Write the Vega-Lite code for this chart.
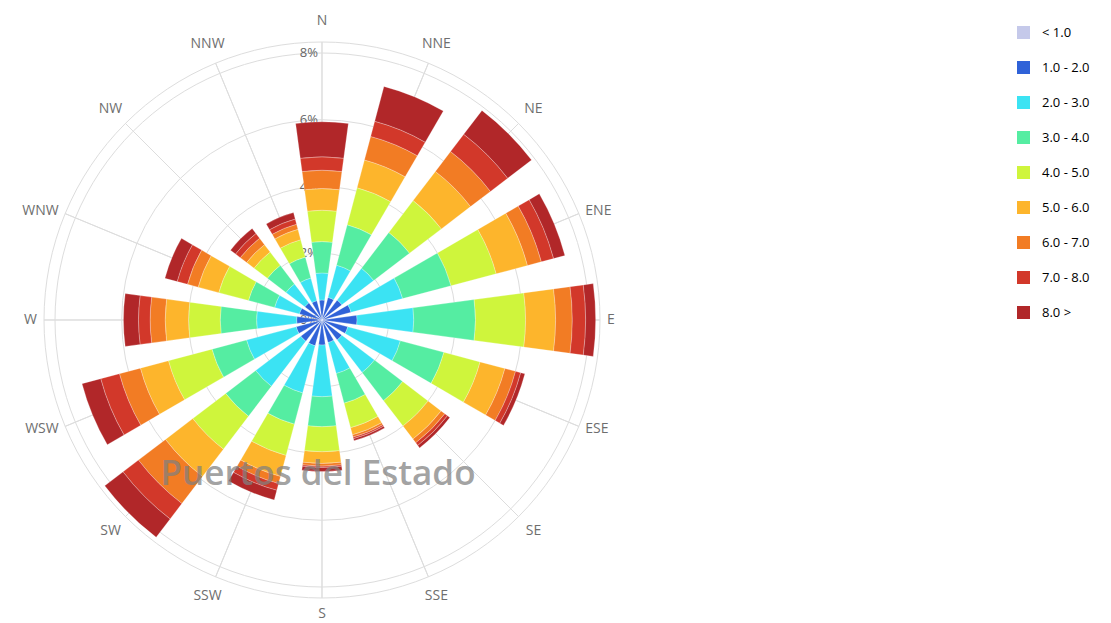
{
  "$schema": "https://vega.github.io/schema/vega-lite/v6.json",
  "width": 600,
  "height": 600,
  "autosize": {"type": "none"},
  "padding": {"left": 22, "top": 20, "right": 489, "bottom": 3},
  "background": "white",
  "config": {"view": {"stroke": null}, "font": "Open Sans"},
  "datasets": {
    "rose": [
      {"dir": "N", "speed": "1.0 - 2.0", "value": 0.6}, {"dir": "N", "speed": "2.0 - 3.0", "value": 0.81}, {"dir": "N", "speed": "3.0 - 4.0", "value": 0.94}, {"dir": "N", "speed": "4.0 - 5.0", "value": 0.94}, {"dir": "N", "speed": "5.0 - 6.0", "value": 0.65}, {"dir": "N", "speed": "6.0 - 7.0", "value": 0.55}, {"dir": "N", "speed": "7.0 - 8.0", "value": 0.40}, {"dir": "N", "speed": "8.0 >", "value": 1.05},
      {"dir": "NNE", "speed": "1.0 - 2.0", "value": 0.7}, {"dir": "NNE", "speed": "2.0 - 3.0", "value": 1.0}, {"dir": "NNE", "speed": "3.0 - 4.0", "value": 1.25}, {"dir": "NNE", "speed": "4.0 - 5.0", "value": 1.15}, {"dir": "NNE", "speed": "5.0 - 6.0", "value": 0.86}, {"dir": "NNE", "speed": "6.0 - 7.0", "value": 0.73}, {"dir": "NNE", "speed": "7.0 - 8.0", "value": 0.47}, {"dir": "NNE", "speed": "8.0 >", "value": 1.08},
      {"dir": "NE", "speed": "1.0 - 2.0", "value": 0.75}, {"dir": "NE", "speed": "2.0 - 3.0", "value": 1.2}, {"dir": "NE", "speed": "3.0 - 4.0", "value": 1.35}, {"dir": "NE", "speed": "4.0 - 5.0", "value": 1.2}, {"dir": "NE", "speed": "5.0 - 6.0", "value": 1.1}, {"dir": "NE", "speed": "6.0 - 7.0", "value": 0.75}, {"dir": "NE", "speed": "7.0 - 8.0", "value": 0.65}, {"dir": "NE", "speed": "8.0 >", "value": 0.9},
      {"dir": "ENE", "speed": "1.0 - 2.0", "value": 0.9}, {"dir": "ENE", "speed": "2.0 - 3.0", "value": 1.6}, {"dir": "ENE", "speed": "3.0 - 4.0", "value": 1.5}, {"dir": "ENE", "speed": "4.0 - 5.0", "value": 1.4}, {"dir": "ENE", "speed": "5.0 - 6.0", "value": 0.97}, {"dir": "ENE", "speed": "6.0 - 7.0", "value": 0.43}, {"dir": "ENE", "speed": "7.0 - 8.0", "value": 0.38}, {"dir": "ENE", "speed": "8.0 >", "value": 0.35},
      {"dir": "E", "speed": "1.0 - 2.0", "value": 1.05}, {"dir": "E", "speed": "2.0 - 3.0", "value": 1.7}, {"dir": "E", "speed": "3.0 - 4.0", "value": 1.85}, {"dir": "E", "speed": "4.0 - 5.0", "value": 1.5}, {"dir": "E", "speed": "5.0 - 6.0", "value": 0.9}, {"dir": "E", "speed": "6.0 - 7.0", "value": 0.5}, {"dir": "E", "speed": "7.0 - 8.0", "value": 0.4}, {"dir": "E", "speed": "8.0 >", "value": 0.3},
      {"dir": "ESE", "speed": "1.0 - 2.0", "value": 0.8}, {"dir": "ESE", "speed": "2.0 - 3.0", "value": 1.63}, {"dir": "ESE", "speed": "3.0 - 4.0", "value": 1.35}, {"dir": "ESE", "speed": "4.0 - 5.0", "value": 1.12}, {"dir": "ESE", "speed": "5.0 - 6.0", "value": 0.77}, {"dir": "ESE", "speed": "6.0 - 7.0", "value": 0.33}, {"dir": "ESE", "speed": "7.0 - 8.0", "value": 0.16}, {"dir": "ESE", "speed": "8.0 >", "value": 0.13},
      {"dir": "SE", "speed": "1.0 - 2.0", "value": 0.75}, {"dir": "SE", "speed": "2.0 - 3.0", "value": 1.23}, {"dir": "SE", "speed": "3.0 - 4.0", "value": 1.06}, {"dir": "SE", "speed": "4.0 - 5.0", "value": 0.96}, {"dir": "SE", "speed": "5.0 - 6.0", "value": 0.49}, {"dir": "SE", "speed": "6.0 - 7.0", "value": 0.14}, {"dir": "SE", "speed": "7.0 - 8.0", "value": 0.10}, {"dir": "SE", "speed": "8.0 >", "value": 0.09},
      {"dir": "SSE", "speed": "1.0 - 2.0", "value": 0.7}, {"dir": "SSE", "speed": "2.0 - 3.0", "value": 0.96}, {"dir": "SSE", "speed": "3.0 - 4.0", "value": 0.92}, {"dir": "SSE", "speed": "4.0 - 5.0", "value": 0.76}, {"dir": "SSE", "speed": "5.0 - 6.0", "value": 0.22}, {"dir": "SSE", "speed": "6.0 - 7.0", "value": 0.07}, {"dir": "SSE", "speed": "7.0 - 8.0", "value": 0.05}, {"dir": "SSE", "speed": "8.0 >", "value": 0.06},
      {"dir": "S", "speed": "1.0 - 2.0", "value": 0.75}, {"dir": "S", "speed": "2.0 - 3.0", "value": 1.55}, {"dir": "S", "speed": "3.0 - 4.0", "value": 0.9}, {"dir": "S", "speed": "4.0 - 5.0", "value": 0.75}, {"dir": "S", "speed": "5.0 - 6.0", "value": 0.35}, {"dir": "S", "speed": "6.0 - 7.0", "value": 0.08}, {"dir": "S", "speed": "7.0 - 8.0", "value": 0.04}, {"dir": "S", "speed": "8.0 >", "value": 0.12},
      {"dir": "SSW", "speed": "1.0 - 2.0", "value": 0.8}, {"dir": "SSW", "speed": "2.0 - 3.0", "value": 1.46}, {"dir": "SSW", "speed": "3.0 - 4.0", "value": 0.97}, {"dir": "SSW", "speed": "4.0 - 5.0", "value": 0.97}, {"dir": "SSW", "speed": "5.0 - 6.0", "value": 0.65}, {"dir": "SSW", "speed": "6.0 - 7.0", "value": 0.22}, {"dir": "SSW", "speed": "7.0 - 8.0", "value": 0.21}, {"dir": "SSW", "speed": "8.0 >", "value": 0.30},
      {"dir": "SW", "speed": "1.0 - 2.0", "value": 0.8}, {"dir": "SW", "speed": "2.0 - 3.0", "value": 1.7}, {"dir": "SW", "speed": "3.0 - 4.0", "value": 1.13}, {"dir": "SW", "speed": "4.0 - 5.0", "value": 1.24}, {"dir": "SW", "speed": "5.0 - 6.0", "value": 1.03}, {"dir": "SW", "speed": "6.0 - 7.0", "value": 1.02}, {"dir": "SW", "speed": "7.0 - 8.0", "value": 0.58}, {"dir": "SW", "speed": "8.0 >", "value": 0.69},
      {"dir": "WSW", "speed": "1.0 - 2.0", "value": 0.8}, {"dir": "WSW", "speed": "2.0 - 3.0", "value": 1.54}, {"dir": "WSW", "speed": "3.0 - 4.0", "value": 1.07}, {"dir": "WSW", "speed": "4.0 - 5.0", "value": 1.35}, {"dir": "WSW", "speed": "5.0 - 6.0", "value": 0.87}, {"dir": "WSW", "speed": "6.0 - 7.0", "value": 0.65}, {"dir": "WSW", "speed": "7.0 - 8.0", "value": 0.58}, {"dir": "WSW", "speed": "8.0 >", "value": 0.58},
      {"dir": "W", "speed": "1.0 - 2.0", "value": 0.76}, {"dir": "W", "speed": "2.0 - 3.0", "value": 1.2}, {"dir": "W", "speed": "3.0 - 4.0", "value": 1.09}, {"dir": "W", "speed": "4.0 - 5.0", "value": 0.95}, {"dir": "W", "speed": "5.0 - 6.0", "value": 0.7}, {"dir": "W", "speed": "6.0 - 7.0", "value": 0.45}, {"dir": "W", "speed": "7.0 - 8.0", "value": 0.35}, {"dir": "W", "speed": "8.0 >", "value": 0.45},
      {"dir": "WNW", "speed": "1.0 - 2.0", "value": 0.7}, {"dir": "WNW", "speed": "2.0 - 3.0", "value": 0.77}, {"dir": "WNW", "speed": "3.0 - 4.0", "value": 0.81}, {"dir": "WNW", "speed": "4.0 - 5.0", "value": 0.92}, {"dir": "WNW", "speed": "5.0 - 6.0", "value": 0.64}, {"dir": "WNW", "speed": "6.0 - 7.0", "value": 0.33}, {"dir": "WNW", "speed": "7.0 - 8.0", "value": 0.32}, {"dir": "WNW", "speed": "8.0 >", "value": 0.38},
      {"dir": "NW", "speed": "1.0 - 2.0", "value": 0.65}, {"dir": "NW", "speed": "2.0 - 3.0", "value": 0.71}, {"dir": "NW", "speed": "3.0 - 4.0", "value": 0.70}, {"dir": "NW", "speed": "4.0 - 5.0", "value": 0.50}, {"dir": "NW", "speed": "5.0 - 6.0", "value": 0.28}, {"dir": "NW", "speed": "6.0 - 7.0", "value": 0.24}, {"dir": "NW", "speed": "7.0 - 8.0", "value": 0.18}, {"dir": "NW", "speed": "8.0 >", "value": 0.19},
      {"dir": "NNW", "speed": "1.0 - 2.0", "value": 0.6}, {"dir": "NNW", "speed": "2.0 - 3.0", "value": 0.7}, {"dir": "NNW", "speed": "3.0 - 4.0", "value": 0.65}, {"dir": "NNW", "speed": "4.0 - 5.0", "value": 0.54}, {"dir": "NNW", "speed": "5.0 - 6.0", "value": 0.32}, {"dir": "NNW", "speed": "6.0 - 7.0", "value": 0.16}, {"dir": "NNW", "speed": "7.0 - 8.0", "value": 0.16}, {"dir": "NNW", "speed": "8.0 >", "value": 0.20}
    ],
    "dirs": [
      {"dir": "N", "deg": 0}, {"dir": "NNE", "deg": 22.5}, {"dir": "NE", "deg": 45}, {"dir": "ENE", "deg": 67.5},
      {"dir": "E", "deg": 90}, {"dir": "ESE", "deg": 112.5}, {"dir": "SE", "deg": 135}, {"dir": "SSE", "deg": 157.5},
      {"dir": "S", "deg": 180}, {"dir": "SSW", "deg": 202.5}, {"dir": "SW", "deg": 225}, {"dir": "WSW", "deg": 247.5},
      {"dir": "W", "deg": 270}, {"dir": "WNW", "deg": 292.5}, {"dir": "NW", "deg": 315}, {"dir": "NNW", "deg": 337.5}
    ],
    "rings": [{"ring": 2}, {"ring": 4}, {"ring": 6}, {"ring": 8}, {"ring": 8.33}],
    "pcts": [{"pct": 0, "label": "0%"}, {"pct": 2, "label": "2%"}, {"pct": 4, "label": "4%"}, {"pct": 6, "label": "6%"}, {"pct": 8, "label": "8%"}],
    "mark": [{"t": "Puertos del Estado"}]
  },
  "layer": [
    {
      "data": {"name": "rings"},
      "mark": {"type": "arc", "filled": false, "stroke": "#dddddd", "strokeWidth": 1, "theta": 0, "theta2": 6.2832},
      "encoding": {
        "radius": {"field": "ring", "type": "quantitative", "stack": null, "scale": {"type": "linear", "domain": [0, 8.33], "range": [0, 278], "nice": false, "zero": true}}
      }
    },
    {
      "data": {"name": "dirs"},
      "mark": {"type": "arc", "filled": false, "stroke": "#dddddd", "strokeWidth": 1},
      "encoding": {
        "theta": {"field": "deg", "type": "quantitative", "scale": {"domain": [0, 360], "range": [0, 6.283185307]}},
        "theta2": {"field": "deg"},
        "radius": {"datum": 8.33, "type": "quantitative", "scale": {"type": "linear", "domain": [0, 8.33], "range": [0, 278], "nice": false, "zero": true}}
      }
    },
    {
      "data": {"name": "pcts"},
      "mark": {"type": "text", "theta": 0, "align": "right", "baseline": "middle", "dx": -4, "fontSize": 13, "fill": "#666666"},
      "encoding": {
        "radius": {"field": "pct", "type": "quantitative", "scale": {"type": "linear", "domain": [0, 8.33], "range": [0, 278], "nice": false, "zero": true}},
        "text": {"field": "label"}
      }
    },
    {
      "data": {"name": "rose"},
      "transform": [
        {"stack": "value", "groupby": ["dir"], "sort": [{"field": "speed", "order": "ascending"}], "as": ["r0", "r1"]}
      ],
      "mark": {"type": "arc", "stroke": "#ffffff", "strokeWidth": 0.5, "strokeOpacity": 0.5},
      "encoding": {
        "theta": {"field": "dir", "type": "nominal", "scale": {"type": "band", "domain": ["N", "NNE", "NE", "ENE", "E", "ESE", "SE", "SSE", "S", "SSW", "SW", "WSW", "W", "WNW", "NW", "NNW"], "range": [-0.19635, 6.08684], "paddingInner": 0.32, "paddingOuter": 0.16}},
        "radius": {"field": "r1", "type": "quantitative", "stack": null, "scale": {"type": "linear", "domain": [0, 8.33], "range": [0, 278], "nice": false, "zero": true}},
        "radius2": {"field": "r0"},
        "color": {
          "field": "speed",
          "type": "nominal",
          "scale": {
            "domain": ["< 1.0", "1.0 - 2.0", "2.0 - 3.0", "3.0 - 4.0", "4.0 - 5.0", "5.0 - 6.0", "6.0 - 7.0", "7.0 - 8.0", "8.0 >"],
            "range": ["#c5c9ea", "#2f62d8", "#3be3f3", "#55eda2", "#cff53c", "#fdb52c", "#f27c24", "#d2382a", "#b12729"]
          },
          "legend": {
            "orient": "none",
            "legendX": 995,
            "legendY": 6,
            "title": null,
            "symbolType": "square",
            "symbolSize": 169,
            "symbolStrokeWidth": 0,
            "symbolOpacity": 1,
            "labelFontSize": 13,
            "labelFont": "Open Sans",
            "labelOffset": 12,
            "rowPadding": 21,
            "encode": {"labels": {"update": {"fill": [{"test": "datum.value == '< 1.0'", "value": "#dcdcdc"}, {"value": "#666666"}]}}}
          }
        }
      }
    },
    {
      "data": {"name": "dirs"},
      "transform": [{"filter": "datum.deg != 67.5 && datum.deg != 90 && datum.deg != 112.5 && datum.deg != 247.5 && datum.deg != 270 && datum.deg != 292.5"}],
      "mark": {
        "type": "text",
        "fontSize": 14,
        "fill": "#6e6e6e",
        "align": "center",
        "baseline": "middle",
        "dy": {"expr": "datum.deg == 180 ? -5 : 0"}
      },
      "encoding": {
        "theta": {"field": "deg", "type": "quantitative", "scale": {"domain": [0, 360], "range": [0, 6.283185307]}},
        "radius": {"datum": 8.96, "type": "quantitative", "scale": {"type": "linear", "domain": [0, 8.33], "range": [0, 278], "nice": false, "zero": true}},
        "text": {"field": "dir"}
      }
    },
    {
      "data": {"name": "dirs"},
      "transform": [{"filter": "datum.deg == 67.5 || datum.deg == 90 || datum.deg == 112.5 || datum.deg == 247.5 || datum.deg == 270 || datum.deg == 292.5"}],
      "mark": {
        "type": "text",
        "fontSize": 14,
        "fill": "#6e6e6e",
        "align": {"expr": "datum.deg < 180 ? 'left' : 'right'"},
        "baseline": "middle"
      },
      "encoding": {
        "theta": {"field": "deg", "type": "quantitative", "scale": {"domain": [0, 360], "range": [0, 6.283185307]}},
        "radius": {"datum": 8.54, "type": "quantitative", "scale": {"type": "linear", "domain": [0, 8.33], "range": [0, 278], "nice": false, "zero": true}},
        "text": {"field": "dir"}
      }
    },
    {
      "data": {"name": "mark"},
      "mark": {"type": "text", "theta": 3.14159, "fontSize": 35, "fontWeight": 600, "fill": "#808080", "opacity": 0.72, "align": "center", "baseline": "middle", "dx": -4, "dy": 2},
      "encoding": {
        "radius": {"datum": 4.55, "type": "quantitative", "scale": {"type": "linear", "domain": [0, 8.33], "range": [0, 278], "nice": false, "zero": true}},
        "text": {"field": "t"}
      }
    }
  ],
  "resolve": {"scale": {"theta": "independent"}}
}
